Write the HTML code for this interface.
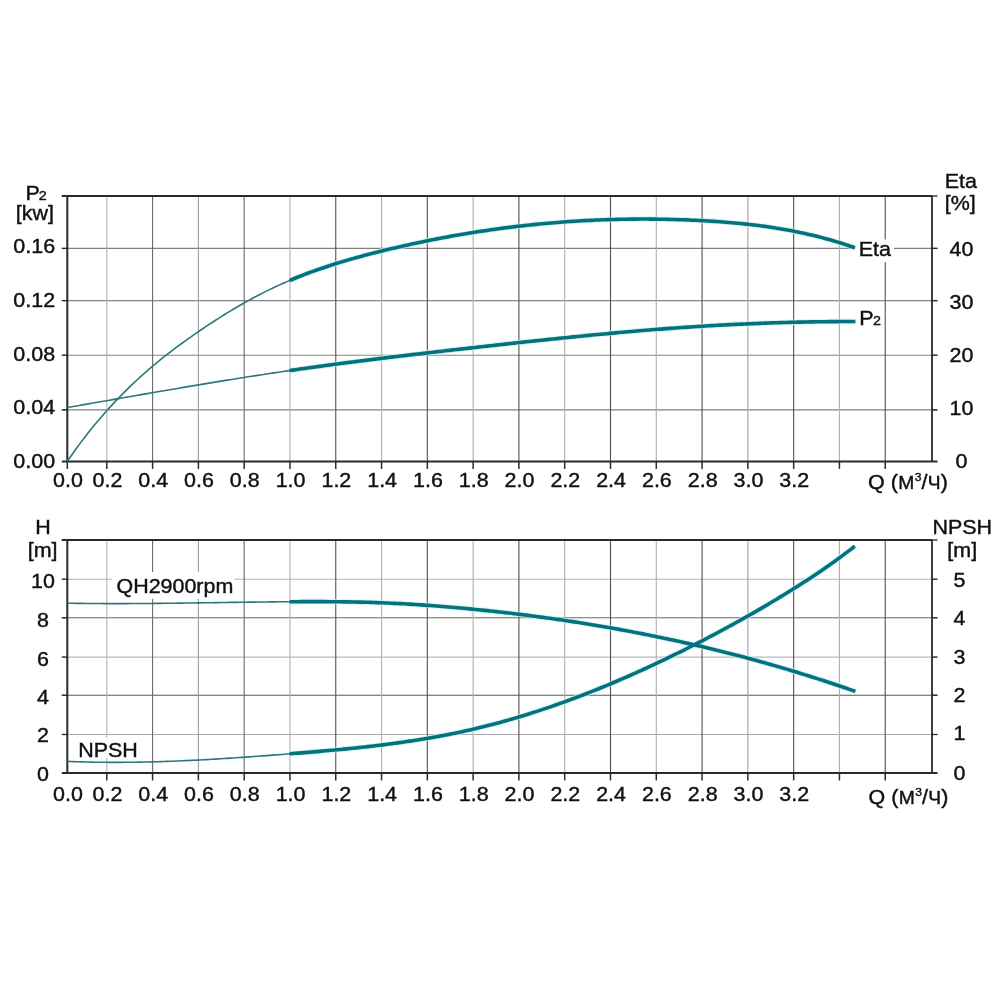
<!DOCTYPE html>
<html><head><meta charset="utf-8"><style>
html,body{margin:0;padding:0;background:#fff;width:1000px;height:1000px;overflow:hidden}
svg{display:block;font-family:"Liberation Sans",sans-serif}
text{fill:#111;stroke:#111;stroke-width:0.4px}
</style></head><body>
<svg width="1000" height="1000" viewBox="0 0 1000 1000">
<rect width="1000" height="1000" fill="#fff"/>
<line x1="61.8" y1="248.4" x2="937.5" y2="248.4" stroke="#808080" stroke-width="1.1"/>
<line x1="61.8" y1="300.6" x2="937.5" y2="300.6" stroke="#858585" stroke-width="1.1"/>
<line x1="61.8" y1="355.2" x2="937.5" y2="355.2" stroke="#858585" stroke-width="1.1"/>
<line x1="61.8" y1="409.9" x2="937.5" y2="409.9" stroke="#808080" stroke-width="1.1"/>
<line x1="106.80" y1="196.0" x2="106.80" y2="461.4" stroke="#b4b4b4" stroke-width="1.1"/>
<line x1="152.59" y1="196.0" x2="152.59" y2="461.4" stroke="#6a6a6a" stroke-width="1.1"/>
<line x1="198.38" y1="196.0" x2="198.38" y2="461.4" stroke="#9c9c9c" stroke-width="1.1"/>
<line x1="244.17" y1="196.0" x2="244.17" y2="461.4" stroke="#6a6a6a" stroke-width="1.1"/>
<line x1="289.96" y1="196.0" x2="289.96" y2="461.4" stroke="#b0b0b0" stroke-width="1.1"/>
<line x1="335.75" y1="196.0" x2="335.75" y2="461.4" stroke="#555555" stroke-width="1.1"/>
<line x1="381.54" y1="196.0" x2="381.54" y2="461.4" stroke="#b0b0b0" stroke-width="1.1"/>
<line x1="427.33" y1="196.0" x2="427.33" y2="461.4" stroke="#555555" stroke-width="1.1"/>
<line x1="473.12" y1="196.0" x2="473.12" y2="461.4" stroke="#b0b0b0" stroke-width="1.1"/>
<line x1="518.91" y1="196.0" x2="518.91" y2="461.4" stroke="#505050" stroke-width="1.1"/>
<line x1="564.70" y1="196.0" x2="564.70" y2="461.4" stroke="#b0b0b0" stroke-width="1.1"/>
<line x1="610.49" y1="196.0" x2="610.49" y2="461.4" stroke="#505050" stroke-width="1.1"/>
<line x1="656.28" y1="196.0" x2="656.28" y2="461.4" stroke="#b0b0b0" stroke-width="1.1"/>
<line x1="702.07" y1="196.0" x2="702.07" y2="461.4" stroke="#505050" stroke-width="1.1"/>
<line x1="747.86" y1="196.0" x2="747.86" y2="461.4" stroke="#a0a0a0" stroke-width="1.1"/>
<line x1="793.65" y1="196.0" x2="793.65" y2="461.4" stroke="#505050" stroke-width="1.1"/>
<line x1="839.44" y1="196.0" x2="839.44" y2="461.4" stroke="#b0b0b0" stroke-width="1.1"/>
<line x1="885.23" y1="196.0" x2="885.23" y2="461.4" stroke="#505050" stroke-width="1.1"/>
<line x1="67.30" y1="461.4" x2="67.30" y2="468.9" stroke="#2a2a2a" stroke-width="1.5"/>
<line x1="106.80" y1="461.4" x2="106.80" y2="468.9" stroke="#2a2a2a" stroke-width="1.5"/>
<line x1="152.59" y1="461.4" x2="152.59" y2="468.9" stroke="#2a2a2a" stroke-width="1.5"/>
<line x1="198.38" y1="461.4" x2="198.38" y2="468.9" stroke="#2a2a2a" stroke-width="1.5"/>
<line x1="244.17" y1="461.4" x2="244.17" y2="468.9" stroke="#2a2a2a" stroke-width="1.5"/>
<line x1="289.96" y1="461.4" x2="289.96" y2="468.9" stroke="#2a2a2a" stroke-width="1.5"/>
<line x1="335.75" y1="461.4" x2="335.75" y2="468.9" stroke="#2a2a2a" stroke-width="1.5"/>
<line x1="381.54" y1="461.4" x2="381.54" y2="468.9" stroke="#2a2a2a" stroke-width="1.5"/>
<line x1="427.33" y1="461.4" x2="427.33" y2="468.9" stroke="#2a2a2a" stroke-width="1.5"/>
<line x1="473.12" y1="461.4" x2="473.12" y2="468.9" stroke="#2a2a2a" stroke-width="1.5"/>
<line x1="518.91" y1="461.4" x2="518.91" y2="468.9" stroke="#2a2a2a" stroke-width="1.5"/>
<line x1="564.70" y1="461.4" x2="564.70" y2="468.9" stroke="#2a2a2a" stroke-width="1.5"/>
<line x1="610.49" y1="461.4" x2="610.49" y2="468.9" stroke="#2a2a2a" stroke-width="1.5"/>
<line x1="656.28" y1="461.4" x2="656.28" y2="468.9" stroke="#2a2a2a" stroke-width="1.5"/>
<line x1="702.07" y1="461.4" x2="702.07" y2="468.9" stroke="#2a2a2a" stroke-width="1.5"/>
<line x1="747.86" y1="461.4" x2="747.86" y2="468.9" stroke="#2a2a2a" stroke-width="1.5"/>
<line x1="793.65" y1="461.4" x2="793.65" y2="468.9" stroke="#2a2a2a" stroke-width="1.5"/>
<line x1="839.44" y1="461.4" x2="839.44" y2="468.9" stroke="#2a2a2a" stroke-width="1.5"/>
<line x1="885.23" y1="461.4" x2="885.23" y2="468.9" stroke="#2a2a2a" stroke-width="1.5"/>
<line x1="61.8" y1="196.0" x2="932.0" y2="196.0" stroke="#2a2a2a" stroke-width="2"/>
<line x1="61.8" y1="461.4" x2="937.5" y2="461.4" stroke="#2a2a2a" stroke-width="2"/>
<line x1="67.3" y1="196.0" x2="67.3" y2="461.4" stroke="#2a2a2a" stroke-width="2"/>
<line x1="932.0" y1="196.0" x2="932.0" y2="461.4" stroke="#2a2a2a" stroke-width="1.8"/>
<line x1="932.0" y1="196.0" x2="937.5" y2="196.0" stroke="#2a2a2a" stroke-width="1.3"/>
<line x1="61.8" y1="196.0" x2="67.3" y2="196.0" stroke="#2a2a2a" stroke-width="1.3"/>
<line x1="932.0" y1="248.4" x2="937.5" y2="248.4" stroke="#2a2a2a" stroke-width="1.3"/>
<line x1="61.8" y1="248.4" x2="67.3" y2="248.4" stroke="#2a2a2a" stroke-width="1.3"/>
<line x1="932.0" y1="300.6" x2="937.5" y2="300.6" stroke="#2a2a2a" stroke-width="1.3"/>
<line x1="61.8" y1="300.6" x2="67.3" y2="300.6" stroke="#2a2a2a" stroke-width="1.3"/>
<line x1="932.0" y1="355.2" x2="937.5" y2="355.2" stroke="#2a2a2a" stroke-width="1.3"/>
<line x1="61.8" y1="355.2" x2="67.3" y2="355.2" stroke="#2a2a2a" stroke-width="1.3"/>
<line x1="932.0" y1="409.9" x2="937.5" y2="409.9" stroke="#2a2a2a" stroke-width="1.3"/>
<line x1="61.8" y1="409.9" x2="67.3" y2="409.9" stroke="#2a2a2a" stroke-width="1.3"/>
<line x1="61.8" y1="579.2" x2="937.5" y2="579.2" stroke="#b4b4b4" stroke-width="1.1"/>
<line x1="61.8" y1="617.8" x2="937.5" y2="617.8" stroke="#6a6a6a" stroke-width="1.1"/>
<line x1="61.8" y1="657.1" x2="937.5" y2="657.1" stroke="#b8b8b8" stroke-width="1.1"/>
<line x1="61.8" y1="695.2" x2="937.5" y2="695.2" stroke="#5a5a5a" stroke-width="1.1"/>
<line x1="61.8" y1="734.5" x2="937.5" y2="734.5" stroke="#aaaaaa" stroke-width="1.1"/>
<line x1="106.80" y1="540.0" x2="106.80" y2="772.9" stroke="#b4b4b4" stroke-width="1.1"/>
<line x1="152.59" y1="540.0" x2="152.59" y2="772.9" stroke="#6a6a6a" stroke-width="1.1"/>
<line x1="198.38" y1="540.0" x2="198.38" y2="772.9" stroke="#9c9c9c" stroke-width="1.1"/>
<line x1="244.17" y1="540.0" x2="244.17" y2="772.9" stroke="#6a6a6a" stroke-width="1.1"/>
<line x1="289.96" y1="540.0" x2="289.96" y2="772.9" stroke="#b0b0b0" stroke-width="1.1"/>
<line x1="335.75" y1="540.0" x2="335.75" y2="772.9" stroke="#555555" stroke-width="1.1"/>
<line x1="381.54" y1="540.0" x2="381.54" y2="772.9" stroke="#b0b0b0" stroke-width="1.1"/>
<line x1="427.33" y1="540.0" x2="427.33" y2="772.9" stroke="#555555" stroke-width="1.1"/>
<line x1="473.12" y1="540.0" x2="473.12" y2="772.9" stroke="#b0b0b0" stroke-width="1.1"/>
<line x1="518.91" y1="540.0" x2="518.91" y2="772.9" stroke="#505050" stroke-width="1.1"/>
<line x1="564.70" y1="540.0" x2="564.70" y2="772.9" stroke="#b0b0b0" stroke-width="1.1"/>
<line x1="610.49" y1="540.0" x2="610.49" y2="772.9" stroke="#505050" stroke-width="1.1"/>
<line x1="656.28" y1="540.0" x2="656.28" y2="772.9" stroke="#b0b0b0" stroke-width="1.1"/>
<line x1="702.07" y1="540.0" x2="702.07" y2="772.9" stroke="#505050" stroke-width="1.1"/>
<line x1="747.86" y1="540.0" x2="747.86" y2="772.9" stroke="#a0a0a0" stroke-width="1.1"/>
<line x1="793.65" y1="540.0" x2="793.65" y2="772.9" stroke="#505050" stroke-width="1.1"/>
<line x1="839.44" y1="540.0" x2="839.44" y2="772.9" stroke="#b0b0b0" stroke-width="1.1"/>
<line x1="885.23" y1="540.0" x2="885.23" y2="772.9" stroke="#505050" stroke-width="1.1"/>
<line x1="106.80" y1="772.9" x2="106.80" y2="780.4" stroke="#2a2a2a" stroke-width="1.5"/>
<line x1="152.59" y1="772.9" x2="152.59" y2="780.4" stroke="#2a2a2a" stroke-width="1.5"/>
<line x1="198.38" y1="772.9" x2="198.38" y2="780.4" stroke="#2a2a2a" stroke-width="1.5"/>
<line x1="244.17" y1="772.9" x2="244.17" y2="780.4" stroke="#2a2a2a" stroke-width="1.5"/>
<line x1="289.96" y1="772.9" x2="289.96" y2="780.4" stroke="#2a2a2a" stroke-width="1.5"/>
<line x1="335.75" y1="772.9" x2="335.75" y2="780.4" stroke="#2a2a2a" stroke-width="1.5"/>
<line x1="381.54" y1="772.9" x2="381.54" y2="780.4" stroke="#2a2a2a" stroke-width="1.5"/>
<line x1="427.33" y1="772.9" x2="427.33" y2="780.4" stroke="#2a2a2a" stroke-width="1.5"/>
<line x1="473.12" y1="772.9" x2="473.12" y2="780.4" stroke="#2a2a2a" stroke-width="1.5"/>
<line x1="518.91" y1="772.9" x2="518.91" y2="780.4" stroke="#2a2a2a" stroke-width="1.5"/>
<line x1="564.70" y1="772.9" x2="564.70" y2="780.4" stroke="#2a2a2a" stroke-width="1.5"/>
<line x1="610.49" y1="772.9" x2="610.49" y2="780.4" stroke="#2a2a2a" stroke-width="1.5"/>
<line x1="656.28" y1="772.9" x2="656.28" y2="780.4" stroke="#2a2a2a" stroke-width="1.5"/>
<line x1="702.07" y1="772.9" x2="702.07" y2="780.4" stroke="#2a2a2a" stroke-width="1.5"/>
<line x1="747.86" y1="772.9" x2="747.86" y2="780.4" stroke="#2a2a2a" stroke-width="1.5"/>
<line x1="793.65" y1="772.9" x2="793.65" y2="780.4" stroke="#2a2a2a" stroke-width="1.5"/>
<line x1="839.44" y1="772.9" x2="839.44" y2="780.4" stroke="#2a2a2a" stroke-width="1.5"/>
<line x1="885.23" y1="772.9" x2="885.23" y2="780.4" stroke="#2a2a2a" stroke-width="1.5"/>
<line x1="61.8" y1="540.0" x2="932.0" y2="540.0" stroke="#2a2a2a" stroke-width="2"/>
<line x1="61.8" y1="772.9" x2="937.5" y2="772.9" stroke="#2a2a2a" stroke-width="2"/>
<line x1="67.3" y1="540.0" x2="67.3" y2="772.9" stroke="#2a2a2a" stroke-width="2"/>
<line x1="932.0" y1="540.0" x2="932.0" y2="772.9" stroke="#2a2a2a" stroke-width="1.8"/>
<line x1="932.0" y1="540.0" x2="937.5" y2="540.0" stroke="#2a2a2a" stroke-width="1.3"/>
<line x1="61.8" y1="540.0" x2="67.3" y2="540.0" stroke="#2a2a2a" stroke-width="1.3"/>
<line x1="932.0" y1="579.2" x2="937.5" y2="579.2" stroke="#2a2a2a" stroke-width="1.3"/>
<line x1="61.8" y1="579.2" x2="67.3" y2="579.2" stroke="#2a2a2a" stroke-width="1.3"/>
<line x1="932.0" y1="617.8" x2="937.5" y2="617.8" stroke="#2a2a2a" stroke-width="1.3"/>
<line x1="61.8" y1="617.8" x2="67.3" y2="617.8" stroke="#2a2a2a" stroke-width="1.3"/>
<line x1="932.0" y1="657.1" x2="937.5" y2="657.1" stroke="#2a2a2a" stroke-width="1.3"/>
<line x1="61.8" y1="657.1" x2="67.3" y2="657.1" stroke="#2a2a2a" stroke-width="1.3"/>
<line x1="932.0" y1="695.2" x2="937.5" y2="695.2" stroke="#2a2a2a" stroke-width="1.3"/>
<line x1="61.8" y1="695.2" x2="67.3" y2="695.2" stroke="#2a2a2a" stroke-width="1.3"/>
<line x1="932.0" y1="734.5" x2="937.5" y2="734.5" stroke="#2a2a2a" stroke-width="1.3"/>
<line x1="61.8" y1="734.5" x2="67.3" y2="734.5" stroke="#2a2a2a" stroke-width="1.3"/>
<rect x="855" y="239.5" width="39" height="22.5" fill="#fff"/>
<rect x="112" y="572" width="122" height="27" fill="#fff"/>
<rect x="75" y="738" width="65" height="20" fill="#fff"/>
<path d="M289.60,280.50 L292.61,279.24 L295.61,278.00 L298.62,276.79 L301.63,275.60 L304.64,274.43 L307.64,273.29 L310.65,272.18 L313.66,271.08 L316.67,270.01 L319.67,268.96 L322.68,267.93 L325.69,266.92 L328.70,265.93 L331.70,264.96 L334.71,264.00 L337.72,263.07 L340.73,262.15 L343.73,261.25 L346.74,260.36 L349.75,259.49 L352.76,258.64 L355.76,257.79 L358.77,256.97 L361.78,256.15 L364.79,255.35 L367.79,254.56 L370.80,253.78 L373.81,253.01 L376.82,252.25 L379.82,251.50 L382.83,250.76 L385.84,250.03 L388.85,249.31 L391.85,248.59 L394.86,247.89 L397.87,247.19 L400.88,246.50 L403.88,245.82 L406.89,245.15 L409.90,244.48 L412.91,243.83 L415.91,243.18 L418.92,242.54 L421.93,241.91 L424.94,241.29 L427.94,240.68 L430.95,240.07 L433.96,239.48 L436.96,238.89 L439.97,238.31 L442.98,237.74 L445.99,237.18 L448.99,236.63 L452.00,236.08 L455.01,235.55 L458.02,235.02 L461.02,234.50 L464.03,233.99 L467.04,233.49 L470.05,233.00 L473.05,232.52 L476.06,232.04 L479.07,231.58 L482.08,231.12 L485.08,230.67 L488.09,230.23 L491.10,229.80 L494.11,229.37 L497.11,228.96 L500.12,228.55 L503.13,228.15 L506.14,227.77 L509.14,227.38 L512.15,227.01 L515.16,226.65 L518.17,226.30 L521.17,225.95 L524.18,225.61 L527.19,225.28 L530.20,224.96 L533.20,224.65 L536.21,224.35 L539.22,224.05 L542.23,223.77 L545.23,223.49 L548.24,223.22 L551.25,222.96 L554.26,222.71 L557.26,222.46 L560.27,222.23 L563.28,222.00 L566.29,221.78 L569.29,221.57 L572.30,221.37 L575.31,221.18 L578.31,220.99 L581.32,220.82 L584.33,220.65 L587.34,220.49 L590.34,220.34 L593.35,220.20 L596.36,220.06 L599.37,219.94 L602.37,219.82 L605.38,219.71 L608.39,219.61 L611.40,219.52 L614.40,219.44 L617.41,219.36 L620.42,219.29 L623.43,219.23 L626.43,219.18 L629.44,219.14 L632.45,219.11 L635.46,219.08 L638.46,219.07 L641.47,219.06 L644.48,219.06 L647.49,219.07 L650.49,219.08 L653.50,219.11 L656.51,219.14 L659.52,219.18 L662.52,219.23 L665.53,219.29 L668.54,219.35 L671.55,219.43 L674.55,219.51 L677.56,219.60 L680.57,219.70 L683.58,219.81 L686.58,219.92 L689.59,220.05 L692.60,220.18 L695.61,220.32 L698.61,220.47 L701.62,220.62 L704.63,220.79 L707.64,220.96 L710.64,221.14 L713.65,221.34 L716.66,221.54 L719.66,221.75 L722.67,221.97 L725.68,222.20 L728.69,222.45 L731.69,222.70 L734.70,222.97 L737.71,223.25 L740.72,223.54 L743.72,223.85 L746.73,224.16 L749.74,224.50 L752.75,224.84 L755.75,225.21 L758.76,225.58 L761.77,225.97 L764.78,226.38 L767.78,226.81 L770.79,227.25 L773.80,227.70 L776.81,228.18 L779.81,228.67 L782.82,229.18 L785.83,229.71 L788.84,230.26 L791.84,230.82 L794.85,231.41 L797.86,232.01 L800.87,232.64 L803.87,233.29 L806.88,233.96 L809.89,234.65 L812.90,235.36 L815.90,236.09 L818.91,236.85 L821.92,237.63 L824.93,238.43 L827.93,239.25 L830.94,240.10 L833.95,240.98 L836.96,241.88 L839.96,242.80 L842.97,243.75 L845.98,244.73 L848.99,245.73 L851.99,246.76 L855.00,247.82" fill="none" stroke="#c6f1f4" stroke-width="5.6" stroke-linejoin="round" opacity="0.7"/>
<path d="M289.60,370.56 L292.59,370.13 L295.59,369.70 L298.58,369.27 L301.57,368.84 L304.57,368.42 L307.56,368.00 L310.56,367.58 L313.55,367.17 L316.54,366.76 L319.54,366.35 L322.53,365.94 L325.52,365.53 L328.52,365.13 L331.51,364.73 L334.50,364.33 L337.50,363.94 L340.49,363.54 L343.49,363.15 L346.48,362.76 L349.47,362.37 L352.47,361.99 L355.46,361.60 L358.45,361.22 L361.45,360.84 L364.44,360.47 L367.43,360.09 L370.43,359.72 L373.42,359.34 L376.42,358.97 L379.41,358.60 L382.40,358.24 L385.40,357.87 L388.39,357.51 L391.38,357.14 L394.38,356.78 L397.37,356.42 L400.37,356.06 L403.36,355.71 L406.35,355.35 L409.35,355.00 L412.34,354.64 L415.33,354.29 L418.33,353.94 L421.32,353.59 L424.31,353.24 L427.31,352.90 L430.30,352.55 L433.30,352.20 L436.29,351.86 L439.28,351.52 L442.28,351.17 L445.27,350.83 L448.26,350.49 L451.26,350.15 L454.25,349.81 L457.24,349.47 L460.24,349.13 L463.23,348.79 L466.23,348.46 L469.22,348.12 L472.21,347.78 L475.21,347.45 L478.20,347.11 L481.19,346.77 L484.19,346.44 L487.18,346.11 L490.17,345.77 L493.17,345.44 L496.16,345.11 L499.16,344.78 L502.15,344.44 L505.14,344.11 L508.14,343.79 L511.13,343.46 L514.12,343.13 L517.12,342.80 L520.11,342.48 L523.10,342.15 L526.10,341.83 L529.09,341.51 L532.09,341.19 L535.08,340.87 L538.07,340.55 L541.07,340.23 L544.06,339.92 L547.05,339.60 L550.05,339.29 L553.04,338.98 L556.03,338.67 L559.03,338.36 L562.02,338.05 L565.02,337.75 L568.01,337.44 L571.00,337.14 L574.00,336.84 L576.99,336.54 L579.98,336.25 L582.98,335.95 L585.97,335.66 L588.97,335.37 L591.96,335.08 L594.95,334.79 L597.95,334.51 L600.94,334.23 L603.93,333.95 L606.93,333.67 L609.92,333.39 L612.91,333.12 L615.91,332.85 L618.90,332.58 L621.90,332.31 L624.89,332.05 L627.88,331.79 L630.88,331.53 L633.87,331.27 L636.86,331.02 L639.86,330.77 L642.85,330.52 L645.84,330.27 L648.84,330.03 L651.83,329.79 L654.83,329.55 L657.82,329.32 L660.81,329.09 L663.81,328.86 L666.80,328.63 L669.79,328.41 L672.79,328.19 L675.78,327.98 L678.77,327.76 L681.77,327.55 L684.76,327.35 L687.76,327.15 L690.75,326.95 L693.74,326.75 L696.74,326.56 L699.73,326.37 L702.72,326.18 L705.72,326.00 L708.71,325.82 L711.70,325.65 L714.70,325.48 L717.69,325.31 L720.69,325.14 L723.68,324.98 L726.67,324.83 L729.67,324.67 L732.66,324.52 L735.65,324.38 L738.65,324.23 L741.64,324.10 L744.63,323.96 L747.63,323.83 L750.62,323.70 L753.62,323.58 L756.61,323.46 L759.60,323.34 L762.60,323.22 L765.59,323.12 L768.58,323.01 L771.58,322.91 L774.57,322.81 L777.57,322.71 L780.56,322.62 L783.55,322.53 L786.55,322.45 L789.54,322.37 L792.53,322.29 L795.53,322.22 L798.52,322.15 L801.51,322.08 L804.51,322.02 L807.50,321.97 L810.50,321.91 L813.49,321.86 L816.48,321.81 L819.48,321.77 L822.47,321.73 L825.46,321.70 L828.46,321.66 L831.45,321.64 L834.44,321.61 L837.44,321.59 L840.43,321.57 L843.43,321.56 L846.42,321.55 L849.41,321.55 L852.41,321.55 L855.40,321.55" fill="none" stroke="#c6f1f4" stroke-width="5.6" stroke-linejoin="round" opacity="0.7"/>
<path d="M289.60,601.73 L292.59,601.71 L295.59,601.70 L298.58,601.68 L301.57,601.67 L304.57,601.66 L307.56,601.65 L310.56,601.64 L313.55,601.64 L316.54,601.64 L319.54,601.65 L322.53,601.66 L325.52,601.67 L328.52,601.68 L331.51,601.70 L334.50,601.73 L337.50,601.76 L340.49,601.79 L343.49,601.83 L346.48,601.87 L349.47,601.92 L352.47,601.97 L355.46,602.03 L358.45,602.09 L361.45,602.16 L364.44,602.24 L367.43,602.32 L370.43,602.41 L373.42,602.50 L376.42,602.60 L379.41,602.71 L382.40,602.82 L385.40,602.95 L388.39,603.07 L391.38,603.21 L394.38,603.35 L397.37,603.50 L400.37,603.65 L403.36,603.82 L406.35,603.98 L409.35,604.16 L412.34,604.34 L415.33,604.52 L418.33,604.72 L421.32,604.92 L424.31,605.12 L427.31,605.33 L430.30,605.55 L433.30,605.77 L436.29,606.00 L439.28,606.23 L442.28,606.47 L445.27,606.71 L448.26,606.96 L451.26,607.22 L454.25,607.48 L457.24,607.74 L460.24,608.01 L463.23,608.29 L466.23,608.57 L469.22,608.85 L472.21,609.14 L475.21,609.44 L478.20,609.73 L481.19,610.04 L484.19,610.35 L487.18,610.66 L490.17,610.98 L493.17,611.30 L496.16,611.62 L499.16,611.96 L502.15,612.29 L505.14,612.63 L508.14,612.98 L511.13,613.33 L514.12,613.69 L517.12,614.05 L520.11,614.41 L523.10,614.78 L526.10,615.16 L529.09,615.54 L532.09,615.92 L535.08,616.32 L538.07,616.71 L541.07,617.11 L544.06,617.52 L547.05,617.93 L550.05,618.34 L553.04,618.76 L556.03,619.19 L559.03,619.62 L562.02,620.06 L565.02,620.50 L568.01,620.95 L571.00,621.40 L574.00,621.86 L576.99,622.32 L579.98,622.79 L582.98,623.26 L585.97,623.74 L588.97,624.22 L591.96,624.71 L594.95,625.21 L597.95,625.71 L600.94,626.22 L603.93,626.73 L606.93,627.25 L609.92,627.77 L612.91,628.30 L615.91,628.83 L618.90,629.37 L621.90,629.91 L624.89,630.46 L627.88,631.02 L630.88,631.58 L633.87,632.15 L636.86,632.72 L639.86,633.30 L642.85,633.89 L645.84,634.48 L648.84,635.08 L651.83,635.68 L654.83,636.29 L657.82,636.90 L660.81,637.52 L663.81,638.15 L666.80,638.78 L669.79,639.41 L672.79,640.06 L675.78,640.71 L678.77,641.36 L681.77,642.03 L684.76,642.69 L687.76,643.37 L690.75,644.05 L693.74,644.73 L696.74,645.42 L699.73,646.12 L702.72,646.83 L705.72,647.54 L708.71,648.25 L711.70,648.98 L714.70,649.71 L717.69,650.44 L720.69,651.18 L723.68,651.93 L726.67,652.69 L729.67,653.45 L732.66,654.22 L735.65,654.99 L738.65,655.77 L741.64,656.56 L744.63,657.35 L747.63,658.15 L750.62,658.95 L753.62,659.77 L756.61,660.59 L759.60,661.41 L762.60,662.24 L765.59,663.08 L768.58,663.93 L771.58,664.78 L774.57,665.64 L777.57,666.51 L780.56,667.38 L783.55,668.26 L786.55,669.14 L789.54,670.03 L792.53,670.93 L795.53,671.84 L798.52,672.75 L801.51,673.67 L804.51,674.60 L807.50,675.53 L810.50,676.47 L813.49,677.42 L816.48,678.37 L819.48,679.34 L822.47,680.30 L825.46,681.28 L828.46,682.26 L831.45,683.25 L834.44,684.25 L837.44,685.25 L840.43,686.26 L843.43,687.28 L846.42,688.31 L849.41,689.34 L852.41,690.38 L855.40,691.42" fill="none" stroke="#c6f1f4" stroke-width="5.6" stroke-linejoin="round" opacity="0.7"/>
<path d="M289.60,753.81 L292.61,753.57 L295.61,753.33 L298.62,753.09 L301.63,752.85 L304.63,752.61 L307.64,752.36 L310.64,752.11 L313.65,751.86 L316.66,751.60 L319.66,751.34 L322.67,751.08 L325.68,750.82 L328.68,750.55 L331.69,750.27 L334.70,750.00 L337.70,749.72 L340.71,749.43 L343.71,749.14 L346.72,748.85 L349.73,748.55 L352.73,748.24 L355.74,747.93 L358.75,747.61 L361.75,747.29 L364.76,746.96 L367.77,746.63 L370.77,746.28 L373.78,745.94 L376.79,745.58 L379.79,745.22 L382.80,744.85 L385.80,744.47 L388.81,744.08 L391.82,743.69 L394.82,743.29 L397.83,742.88 L400.84,742.46 L403.84,742.03 L406.85,741.59 L409.86,741.14 L412.86,740.69 L415.87,740.22 L418.87,739.75 L421.88,739.26 L424.89,738.76 L427.89,738.26 L430.90,737.74 L433.91,737.21 L436.91,736.67 L439.92,736.12 L442.93,735.55 L445.93,734.98 L448.94,734.39 L451.94,733.79 L454.95,733.18 L457.96,732.56 L460.96,731.92 L463.97,731.27 L466.98,730.60 L469.98,729.93 L472.99,729.24 L476.00,728.53 L479.00,727.81 L482.01,727.08 L485.01,726.33 L488.02,725.57 L491.03,724.80 L494.03,724.01 L497.04,723.21 L500.05,722.40 L503.05,721.57 L506.06,720.73 L509.07,719.88 L512.07,719.01 L515.08,718.13 L518.09,717.24 L521.09,716.33 L524.10,715.41 L527.10,714.48 L530.11,713.54 L533.12,712.58 L536.12,711.62 L539.13,710.63 L542.14,709.64 L545.14,708.63 L548.15,707.62 L551.16,706.59 L554.16,705.54 L557.17,704.49 L560.17,703.42 L563.18,702.35 L566.19,701.26 L569.19,700.15 L572.20,699.04 L575.21,697.91 L578.21,696.78 L581.22,695.63 L584.23,694.47 L587.23,693.30 L590.24,692.12 L593.24,690.92 L596.25,689.72 L599.26,688.50 L602.26,687.28 L605.27,686.04 L608.28,684.79 L611.28,683.53 L614.29,682.26 L617.30,680.98 L620.30,679.69 L623.31,678.39 L626.31,677.08 L629.32,675.76 L632.33,674.43 L635.33,673.08 L638.34,671.73 L641.35,670.37 L644.35,668.99 L647.36,667.61 L650.37,666.22 L653.37,664.82 L656.38,663.40 L659.39,661.98 L662.39,660.55 L665.40,659.11 L668.40,657.66 L671.41,656.20 L674.42,654.73 L677.42,653.25 L680.43,651.77 L683.44,650.27 L686.44,648.76 L689.45,647.25 L692.46,645.73 L695.46,644.19 L698.47,642.65 L701.47,641.10 L704.48,639.54 L707.49,637.98 L710.49,636.40 L713.50,634.82 L716.51,633.22 L719.51,631.62 L722.52,630.01 L725.53,628.38 L728.53,626.75 L731.54,625.11 L734.54,623.46 L737.55,621.79 L740.56,620.12 L743.56,618.44 L746.57,616.75 L749.58,615.04 L752.58,613.33 L755.59,611.60 L758.60,609.86 L761.60,608.11 L764.61,606.35 L767.61,604.58 L770.62,602.79 L773.63,601.00 L776.63,599.19 L779.64,597.37 L782.65,595.54 L785.65,593.69 L788.66,591.83 L791.67,589.96 L794.67,588.08 L797.68,586.18 L800.69,584.27 L803.69,582.34 L806.70,580.40 L809.70,578.44 L812.71,576.46 L815.72,574.46 L818.72,572.44 L821.73,570.39 L824.74,568.33 L827.74,566.24 L830.75,564.13 L833.76,561.99 L836.76,559.82 L839.77,557.63 L842.77,555.40 L845.78,553.15 L848.79,550.87 L851.79,548.55 L854.80,546.20" fill="none" stroke="#c6f1f4" stroke-width="5.6" stroke-linejoin="round" opacity="0.7"/>
<path d="M67.30,461.29 L70.32,456.94 L73.34,452.68 L76.35,448.50 L79.37,444.40 L82.39,440.38 L85.41,436.44 L88.42,432.59 L91.44,428.80 L94.46,425.10 L97.48,421.46 L100.49,417.90 L103.51,414.41 L106.53,410.99 L109.55,407.64 L112.56,404.35 L115.58,401.12 L118.60,397.96 L121.62,394.86 L124.63,391.82 L127.65,388.84 L130.67,385.91 L133.69,383.04 L136.70,380.22 L139.72,377.45 L142.74,374.73 L145.76,372.07 L148.77,369.44 L151.79,366.87 L154.81,364.33 L157.83,361.84 L160.84,359.39 L163.86,356.98 L166.88,354.61 L169.90,352.27 L172.91,349.97 L175.93,347.70 L178.95,345.46 L181.97,343.25 L184.99,341.06 L188.00,338.91 L191.02,336.78 L194.04,334.67 L197.06,332.59 L200.07,330.52 L203.09,328.47 L206.11,326.45 L209.13,324.45 L212.14,322.46 L215.16,320.50 L218.18,318.56 L221.20,316.65 L224.21,314.76 L227.23,312.90 L230.25,311.06 L233.27,309.24 L236.28,307.45 L239.30,305.69 L242.32,303.96 L245.34,302.26 L248.35,300.58 L251.37,298.94 L254.39,297.32 L257.41,295.73 L260.42,294.17 L263.44,292.63 L266.46,291.13 L269.48,289.65 L272.49,288.20 L275.51,286.78 L278.53,285.38 L281.55,284.02 L284.56,282.68 L287.58,281.36 L290.60,280.08" fill="none" stroke="#2a777c" stroke-width="1.6"/>
<path d="M289.60,280.50 L292.61,279.24 L295.61,278.00 L298.62,276.79 L301.63,275.60 L304.64,274.43 L307.64,273.29 L310.65,272.18 L313.66,271.08 L316.67,270.01 L319.67,268.96 L322.68,267.93 L325.69,266.92 L328.70,265.93 L331.70,264.96 L334.71,264.00 L337.72,263.07 L340.73,262.15 L343.73,261.25 L346.74,260.36 L349.75,259.49 L352.76,258.64 L355.76,257.79 L358.77,256.97 L361.78,256.15 L364.79,255.35 L367.79,254.56 L370.80,253.78 L373.81,253.01 L376.82,252.25 L379.82,251.50 L382.83,250.76 L385.84,250.03 L388.85,249.31 L391.85,248.59 L394.86,247.89 L397.87,247.19 L400.88,246.50 L403.88,245.82 L406.89,245.15 L409.90,244.48 L412.91,243.83 L415.91,243.18 L418.92,242.54 L421.93,241.91 L424.94,241.29 L427.94,240.68 L430.95,240.07 L433.96,239.48 L436.96,238.89 L439.97,238.31 L442.98,237.74 L445.99,237.18 L448.99,236.63 L452.00,236.08 L455.01,235.55 L458.02,235.02 L461.02,234.50 L464.03,233.99 L467.04,233.49 L470.05,233.00 L473.05,232.52 L476.06,232.04 L479.07,231.58 L482.08,231.12 L485.08,230.67 L488.09,230.23 L491.10,229.80 L494.11,229.37 L497.11,228.96 L500.12,228.55 L503.13,228.15 L506.14,227.77 L509.14,227.38 L512.15,227.01 L515.16,226.65 L518.17,226.30 L521.17,225.95 L524.18,225.61 L527.19,225.28 L530.20,224.96 L533.20,224.65 L536.21,224.35 L539.22,224.05 L542.23,223.77 L545.23,223.49 L548.24,223.22 L551.25,222.96 L554.26,222.71 L557.26,222.46 L560.27,222.23 L563.28,222.00 L566.29,221.78 L569.29,221.57 L572.30,221.37 L575.31,221.18 L578.31,220.99 L581.32,220.82 L584.33,220.65 L587.34,220.49 L590.34,220.34 L593.35,220.20 L596.36,220.06 L599.37,219.94 L602.37,219.82 L605.38,219.71 L608.39,219.61 L611.40,219.52 L614.40,219.44 L617.41,219.36 L620.42,219.29 L623.43,219.23 L626.43,219.18 L629.44,219.14 L632.45,219.11 L635.46,219.08 L638.46,219.07 L641.47,219.06 L644.48,219.06 L647.49,219.07 L650.49,219.08 L653.50,219.11 L656.51,219.14 L659.52,219.18 L662.52,219.23 L665.53,219.29 L668.54,219.35 L671.55,219.43 L674.55,219.51 L677.56,219.60 L680.57,219.70 L683.58,219.81 L686.58,219.92 L689.59,220.05 L692.60,220.18 L695.61,220.32 L698.61,220.47 L701.62,220.62 L704.63,220.79 L707.64,220.96 L710.64,221.14 L713.65,221.34 L716.66,221.54 L719.66,221.75 L722.67,221.97 L725.68,222.20 L728.69,222.45 L731.69,222.70 L734.70,222.97 L737.71,223.25 L740.72,223.54 L743.72,223.85 L746.73,224.16 L749.74,224.50 L752.75,224.84 L755.75,225.21 L758.76,225.58 L761.77,225.97 L764.78,226.38 L767.78,226.81 L770.79,227.25 L773.80,227.70 L776.81,228.18 L779.81,228.67 L782.82,229.18 L785.83,229.71 L788.84,230.26 L791.84,230.82 L794.85,231.41 L797.86,232.01 L800.87,232.64 L803.87,233.29 L806.88,233.96 L809.89,234.65 L812.90,235.36 L815.90,236.09 L818.91,236.85 L821.92,237.63 L824.93,238.43 L827.93,239.25 L830.94,240.10 L833.95,240.98 L836.96,241.88 L839.96,242.80 L842.97,243.75 L845.98,244.73 L848.99,245.73 L851.99,246.76 L855.00,247.82" fill="none" stroke="#04717f" stroke-width="3.6" stroke-linejoin="round"/>
<path d="M67.30,407.54 L70.32,407.01 L73.34,406.49 L76.35,405.96 L79.37,405.44 L82.39,404.91 L85.41,404.38 L88.42,403.86 L91.44,403.33 L94.46,402.80 L97.48,402.28 L100.49,401.75 L103.51,401.22 L106.53,400.70 L109.55,400.17 L112.56,399.64 L115.58,399.12 L118.60,398.59 L121.62,398.06 L124.63,397.54 L127.65,397.01 L130.67,396.49 L133.69,395.96 L136.70,395.44 L139.72,394.91 L142.74,394.39 L145.76,393.87 L148.77,393.35 L151.79,392.82 L154.81,392.30 L157.83,391.78 L160.84,391.27 L163.86,390.75 L166.88,390.23 L169.90,389.71 L172.91,389.20 L175.93,388.69 L178.95,388.17 L181.97,387.66 L184.99,387.15 L188.00,386.64 L191.02,386.13 L194.04,385.63 L197.06,385.12 L200.07,384.62 L203.09,384.12 L206.11,383.62 L209.13,383.12 L212.14,382.62 L215.16,382.13 L218.18,381.63 L221.20,381.14 L224.21,380.65 L227.23,380.16 L230.25,379.67 L233.27,379.19 L236.28,378.71 L239.30,378.23 L242.32,377.75 L245.34,377.27 L248.35,376.80 L251.37,376.33 L254.39,375.86 L257.41,375.39 L260.42,374.92 L263.44,374.46 L266.46,374.00 L269.48,373.54 L272.49,373.09 L275.51,372.64 L278.53,372.19 L281.55,371.74 L284.56,371.30 L287.58,370.85 L290.60,370.42" fill="none" stroke="#2a777c" stroke-width="1.6"/>
<path d="M289.60,370.56 L292.59,370.13 L295.59,369.70 L298.58,369.27 L301.57,368.84 L304.57,368.42 L307.56,368.00 L310.56,367.58 L313.55,367.17 L316.54,366.76 L319.54,366.35 L322.53,365.94 L325.52,365.53 L328.52,365.13 L331.51,364.73 L334.50,364.33 L337.50,363.94 L340.49,363.54 L343.49,363.15 L346.48,362.76 L349.47,362.37 L352.47,361.99 L355.46,361.60 L358.45,361.22 L361.45,360.84 L364.44,360.47 L367.43,360.09 L370.43,359.72 L373.42,359.34 L376.42,358.97 L379.41,358.60 L382.40,358.24 L385.40,357.87 L388.39,357.51 L391.38,357.14 L394.38,356.78 L397.37,356.42 L400.37,356.06 L403.36,355.71 L406.35,355.35 L409.35,355.00 L412.34,354.64 L415.33,354.29 L418.33,353.94 L421.32,353.59 L424.31,353.24 L427.31,352.90 L430.30,352.55 L433.30,352.20 L436.29,351.86 L439.28,351.52 L442.28,351.17 L445.27,350.83 L448.26,350.49 L451.26,350.15 L454.25,349.81 L457.24,349.47 L460.24,349.13 L463.23,348.79 L466.23,348.46 L469.22,348.12 L472.21,347.78 L475.21,347.45 L478.20,347.11 L481.19,346.77 L484.19,346.44 L487.18,346.11 L490.17,345.77 L493.17,345.44 L496.16,345.11 L499.16,344.78 L502.15,344.44 L505.14,344.11 L508.14,343.79 L511.13,343.46 L514.12,343.13 L517.12,342.80 L520.11,342.48 L523.10,342.15 L526.10,341.83 L529.09,341.51 L532.09,341.19 L535.08,340.87 L538.07,340.55 L541.07,340.23 L544.06,339.92 L547.05,339.60 L550.05,339.29 L553.04,338.98 L556.03,338.67 L559.03,338.36 L562.02,338.05 L565.02,337.75 L568.01,337.44 L571.00,337.14 L574.00,336.84 L576.99,336.54 L579.98,336.25 L582.98,335.95 L585.97,335.66 L588.97,335.37 L591.96,335.08 L594.95,334.79 L597.95,334.51 L600.94,334.23 L603.93,333.95 L606.93,333.67 L609.92,333.39 L612.91,333.12 L615.91,332.85 L618.90,332.58 L621.90,332.31 L624.89,332.05 L627.88,331.79 L630.88,331.53 L633.87,331.27 L636.86,331.02 L639.86,330.77 L642.85,330.52 L645.84,330.27 L648.84,330.03 L651.83,329.79 L654.83,329.55 L657.82,329.32 L660.81,329.09 L663.81,328.86 L666.80,328.63 L669.79,328.41 L672.79,328.19 L675.78,327.98 L678.77,327.76 L681.77,327.55 L684.76,327.35 L687.76,327.15 L690.75,326.95 L693.74,326.75 L696.74,326.56 L699.73,326.37 L702.72,326.18 L705.72,326.00 L708.71,325.82 L711.70,325.65 L714.70,325.48 L717.69,325.31 L720.69,325.14 L723.68,324.98 L726.67,324.83 L729.67,324.67 L732.66,324.52 L735.65,324.38 L738.65,324.23 L741.64,324.10 L744.63,323.96 L747.63,323.83 L750.62,323.70 L753.62,323.58 L756.61,323.46 L759.60,323.34 L762.60,323.22 L765.59,323.12 L768.58,323.01 L771.58,322.91 L774.57,322.81 L777.57,322.71 L780.56,322.62 L783.55,322.53 L786.55,322.45 L789.54,322.37 L792.53,322.29 L795.53,322.22 L798.52,322.15 L801.51,322.08 L804.51,322.02 L807.50,321.97 L810.50,321.91 L813.49,321.86 L816.48,321.81 L819.48,321.77 L822.47,321.73 L825.46,321.70 L828.46,321.66 L831.45,321.64 L834.44,321.61 L837.44,321.59 L840.43,321.57 L843.43,321.56 L846.42,321.55 L849.41,321.55 L852.41,321.55 L855.40,321.55" fill="none" stroke="#04717f" stroke-width="3.6" stroke-linejoin="round"/>
<path d="M67.30,603.19 L70.32,603.24 L73.34,603.29 L76.35,603.33 L79.37,603.37 L82.39,603.41 L85.41,603.45 L88.42,603.48 L91.44,603.50 L94.46,603.53 L97.48,603.55 L100.49,603.56 L103.51,603.58 L106.53,603.59 L109.55,603.59 L112.56,603.60 L115.58,603.60 L118.60,603.60 L121.62,603.60 L124.63,603.59 L127.65,603.58 L130.67,603.57 L133.69,603.56 L136.70,603.55 L139.72,603.53 L142.74,603.51 L145.76,603.49 L148.77,603.47 L151.79,603.44 L154.81,603.41 L157.83,603.39 L160.84,603.36 L163.86,603.32 L166.88,603.29 L169.90,603.26 L172.91,603.22 L175.93,603.19 L178.95,603.15 L181.97,603.11 L184.99,603.07 L188.00,603.03 L191.02,602.99 L194.04,602.95 L197.06,602.90 L200.07,602.86 L203.09,602.82 L206.11,602.77 L209.13,602.73 L212.14,602.69 L215.16,602.64 L218.18,602.60 L221.20,602.55 L224.21,602.51 L227.23,602.46 L230.25,602.42 L233.27,602.38 L236.28,602.33 L239.30,602.29 L242.32,602.25 L245.34,602.21 L248.35,602.17 L251.37,602.13 L254.39,602.09 L257.41,602.05 L260.42,602.01 L263.44,601.98 L266.46,601.95 L269.48,601.91 L272.49,601.88 L275.51,601.85 L278.53,601.82 L281.55,601.80 L284.56,601.77 L287.58,601.75 L290.60,601.73" fill="none" stroke="#2a777c" stroke-width="1.6"/>
<path d="M289.60,601.73 L292.59,601.71 L295.59,601.70 L298.58,601.68 L301.57,601.67 L304.57,601.66 L307.56,601.65 L310.56,601.64 L313.55,601.64 L316.54,601.64 L319.54,601.65 L322.53,601.66 L325.52,601.67 L328.52,601.68 L331.51,601.70 L334.50,601.73 L337.50,601.76 L340.49,601.79 L343.49,601.83 L346.48,601.87 L349.47,601.92 L352.47,601.97 L355.46,602.03 L358.45,602.09 L361.45,602.16 L364.44,602.24 L367.43,602.32 L370.43,602.41 L373.42,602.50 L376.42,602.60 L379.41,602.71 L382.40,602.82 L385.40,602.95 L388.39,603.07 L391.38,603.21 L394.38,603.35 L397.37,603.50 L400.37,603.65 L403.36,603.82 L406.35,603.98 L409.35,604.16 L412.34,604.34 L415.33,604.52 L418.33,604.72 L421.32,604.92 L424.31,605.12 L427.31,605.33 L430.30,605.55 L433.30,605.77 L436.29,606.00 L439.28,606.23 L442.28,606.47 L445.27,606.71 L448.26,606.96 L451.26,607.22 L454.25,607.48 L457.24,607.74 L460.24,608.01 L463.23,608.29 L466.23,608.57 L469.22,608.85 L472.21,609.14 L475.21,609.44 L478.20,609.73 L481.19,610.04 L484.19,610.35 L487.18,610.66 L490.17,610.98 L493.17,611.30 L496.16,611.62 L499.16,611.96 L502.15,612.29 L505.14,612.63 L508.14,612.98 L511.13,613.33 L514.12,613.69 L517.12,614.05 L520.11,614.41 L523.10,614.78 L526.10,615.16 L529.09,615.54 L532.09,615.92 L535.08,616.32 L538.07,616.71 L541.07,617.11 L544.06,617.52 L547.05,617.93 L550.05,618.34 L553.04,618.76 L556.03,619.19 L559.03,619.62 L562.02,620.06 L565.02,620.50 L568.01,620.95 L571.00,621.40 L574.00,621.86 L576.99,622.32 L579.98,622.79 L582.98,623.26 L585.97,623.74 L588.97,624.22 L591.96,624.71 L594.95,625.21 L597.95,625.71 L600.94,626.22 L603.93,626.73 L606.93,627.25 L609.92,627.77 L612.91,628.30 L615.91,628.83 L618.90,629.37 L621.90,629.91 L624.89,630.46 L627.88,631.02 L630.88,631.58 L633.87,632.15 L636.86,632.72 L639.86,633.30 L642.85,633.89 L645.84,634.48 L648.84,635.08 L651.83,635.68 L654.83,636.29 L657.82,636.90 L660.81,637.52 L663.81,638.15 L666.80,638.78 L669.79,639.41 L672.79,640.06 L675.78,640.71 L678.77,641.36 L681.77,642.03 L684.76,642.69 L687.76,643.37 L690.75,644.05 L693.74,644.73 L696.74,645.42 L699.73,646.12 L702.72,646.83 L705.72,647.54 L708.71,648.25 L711.70,648.98 L714.70,649.71 L717.69,650.44 L720.69,651.18 L723.68,651.93 L726.67,652.69 L729.67,653.45 L732.66,654.22 L735.65,654.99 L738.65,655.77 L741.64,656.56 L744.63,657.35 L747.63,658.15 L750.62,658.95 L753.62,659.77 L756.61,660.59 L759.60,661.41 L762.60,662.24 L765.59,663.08 L768.58,663.93 L771.58,664.78 L774.57,665.64 L777.57,666.51 L780.56,667.38 L783.55,668.26 L786.55,669.14 L789.54,670.03 L792.53,670.93 L795.53,671.84 L798.52,672.75 L801.51,673.67 L804.51,674.60 L807.50,675.53 L810.50,676.47 L813.49,677.42 L816.48,678.37 L819.48,679.34 L822.47,680.30 L825.46,681.28 L828.46,682.26 L831.45,683.25 L834.44,684.25 L837.44,685.25 L840.43,686.26 L843.43,687.28 L846.42,688.31 L849.41,689.34 L852.41,690.38 L855.40,691.42" fill="none" stroke="#04717f" stroke-width="3.6" stroke-linejoin="round"/>
<path d="M67.30,761.39 L70.32,761.51 L73.34,761.62 L76.35,761.73 L79.37,761.82 L82.39,761.91 L85.41,761.99 L88.42,762.06 L91.44,762.12 L94.46,762.18 L97.48,762.23 L100.49,762.27 L103.51,762.30 L106.53,762.32 L109.55,762.34 L112.56,762.35 L115.58,762.35 L118.60,762.35 L121.62,762.34 L124.63,762.32 L127.65,762.30 L130.67,762.27 L133.69,762.23 L136.70,762.18 L139.72,762.13 L142.74,762.07 L145.76,762.01 L148.77,761.94 L151.79,761.87 L154.81,761.79 L157.83,761.70 L160.84,761.61 L163.86,761.51 L166.88,761.40 L169.90,761.30 L172.91,761.18 L175.93,761.06 L178.95,760.94 L181.97,760.81 L184.99,760.67 L188.00,760.54 L191.02,760.39 L194.04,760.24 L197.06,760.09 L200.07,759.93 L203.09,759.77 L206.11,759.61 L209.13,759.44 L212.14,759.27 L215.16,759.09 L218.18,758.91 L221.20,758.73 L224.21,758.54 L227.23,758.35 L230.25,758.15 L233.27,757.95 L236.28,757.75 L239.30,757.55 L242.32,757.34 L245.34,757.14 L248.35,756.92 L251.37,756.71 L254.39,756.49 L257.41,756.27 L260.42,756.05 L263.44,755.83 L266.46,755.60 L269.48,755.37 L272.49,755.14 L275.51,754.91 L278.53,754.68 L281.55,754.45 L284.56,754.21 L287.58,753.97 L290.60,753.73" fill="none" stroke="#2a777c" stroke-width="1.6"/>
<path d="M289.60,753.81 L292.61,753.57 L295.61,753.33 L298.62,753.09 L301.63,752.85 L304.63,752.61 L307.64,752.36 L310.64,752.11 L313.65,751.86 L316.66,751.60 L319.66,751.34 L322.67,751.08 L325.68,750.82 L328.68,750.55 L331.69,750.27 L334.70,750.00 L337.70,749.72 L340.71,749.43 L343.71,749.14 L346.72,748.85 L349.73,748.55 L352.73,748.24 L355.74,747.93 L358.75,747.61 L361.75,747.29 L364.76,746.96 L367.77,746.63 L370.77,746.28 L373.78,745.94 L376.79,745.58 L379.79,745.22 L382.80,744.85 L385.80,744.47 L388.81,744.08 L391.82,743.69 L394.82,743.29 L397.83,742.88 L400.84,742.46 L403.84,742.03 L406.85,741.59 L409.86,741.14 L412.86,740.69 L415.87,740.22 L418.87,739.75 L421.88,739.26 L424.89,738.76 L427.89,738.26 L430.90,737.74 L433.91,737.21 L436.91,736.67 L439.92,736.12 L442.93,735.55 L445.93,734.98 L448.94,734.39 L451.94,733.79 L454.95,733.18 L457.96,732.56 L460.96,731.92 L463.97,731.27 L466.98,730.60 L469.98,729.93 L472.99,729.24 L476.00,728.53 L479.00,727.81 L482.01,727.08 L485.01,726.33 L488.02,725.57 L491.03,724.80 L494.03,724.01 L497.04,723.21 L500.05,722.40 L503.05,721.57 L506.06,720.73 L509.07,719.88 L512.07,719.01 L515.08,718.13 L518.09,717.24 L521.09,716.33 L524.10,715.41 L527.10,714.48 L530.11,713.54 L533.12,712.58 L536.12,711.62 L539.13,710.63 L542.14,709.64 L545.14,708.63 L548.15,707.62 L551.16,706.59 L554.16,705.54 L557.17,704.49 L560.17,703.42 L563.18,702.35 L566.19,701.26 L569.19,700.15 L572.20,699.04 L575.21,697.91 L578.21,696.78 L581.22,695.63 L584.23,694.47 L587.23,693.30 L590.24,692.12 L593.24,690.92 L596.25,689.72 L599.26,688.50 L602.26,687.28 L605.27,686.04 L608.28,684.79 L611.28,683.53 L614.29,682.26 L617.30,680.98 L620.30,679.69 L623.31,678.39 L626.31,677.08 L629.32,675.76 L632.33,674.43 L635.33,673.08 L638.34,671.73 L641.35,670.37 L644.35,668.99 L647.36,667.61 L650.37,666.22 L653.37,664.82 L656.38,663.40 L659.39,661.98 L662.39,660.55 L665.40,659.11 L668.40,657.66 L671.41,656.20 L674.42,654.73 L677.42,653.25 L680.43,651.77 L683.44,650.27 L686.44,648.76 L689.45,647.25 L692.46,645.73 L695.46,644.19 L698.47,642.65 L701.47,641.10 L704.48,639.54 L707.49,637.98 L710.49,636.40 L713.50,634.82 L716.51,633.22 L719.51,631.62 L722.52,630.01 L725.53,628.38 L728.53,626.75 L731.54,625.11 L734.54,623.46 L737.55,621.79 L740.56,620.12 L743.56,618.44 L746.57,616.75 L749.58,615.04 L752.58,613.33 L755.59,611.60 L758.60,609.86 L761.60,608.11 L764.61,606.35 L767.61,604.58 L770.62,602.79 L773.63,601.00 L776.63,599.19 L779.64,597.37 L782.65,595.54 L785.65,593.69 L788.66,591.83 L791.67,589.96 L794.67,588.08 L797.68,586.18 L800.69,584.27 L803.69,582.34 L806.70,580.40 L809.70,578.44 L812.71,576.46 L815.72,574.46 L818.72,572.44 L821.73,570.39 L824.74,568.33 L827.74,566.24 L830.75,564.13 L833.76,561.99 L836.76,559.82 L839.77,557.63 L842.77,555.40 L845.78,553.15 L848.79,550.87 L851.79,548.55 L854.80,546.20" fill="none" stroke="#04717f" stroke-width="3.6" stroke-linejoin="round"/>
<g style="filter:grayscale(1)">
<text transform="translate(25.40,199.60) scale(1.1,1)" text-anchor="start" font-size="19.5">P<tspan font-size="13" dx="-0.9">2</tspan></text>
<text transform="translate(34.80,219.80) scale(1.1,1)" text-anchor="middle" font-size="19.5">[kw]</text>
<text transform="translate(34.20,253.00) scale(1.1,1)" text-anchor="middle" font-size="19.5">0.16</text>
<text transform="translate(34.20,306.60) scale(1.1,1)" text-anchor="middle" font-size="19.5">0.12</text>
<text transform="translate(34.20,360.60) scale(1.1,1)" text-anchor="middle" font-size="19.5">0.08</text>
<text transform="translate(34.20,414.40) scale(1.1,1)" text-anchor="middle" font-size="19.5">0.04</text>
<text transform="translate(34.20,468.40) scale(1.1,1)" text-anchor="middle" font-size="19.5">0.00</text>
<text transform="translate(960.90,188.20) scale(1.1,1)" text-anchor="middle" font-size="19.5">Eta</text>
<text transform="translate(960.20,210.20) scale(1.1,1)" text-anchor="middle" font-size="19.5">[%]</text>
<text transform="translate(961.50,255.70) scale(1.1,1)" text-anchor="middle" font-size="19.5">40</text>
<text transform="translate(961.50,309.00) scale(1.1,1)" text-anchor="middle" font-size="19.5">30</text>
<text transform="translate(961.50,362.00) scale(1.1,1)" text-anchor="middle" font-size="19.5">20</text>
<text transform="translate(961.50,415.00) scale(1.1,1)" text-anchor="middle" font-size="19.5">10</text>
<text transform="translate(961.50,468.00) scale(1.1,1)" text-anchor="middle" font-size="19.5">0</text>
<text transform="translate(67.90,487.20) scale(1.1,1)" text-anchor="middle" font-size="19.5">0.0</text>
<text transform="translate(67.90,801.20) scale(1.1,1)" text-anchor="middle" font-size="19.5">0.0</text>
<text transform="translate(107.40,487.20) scale(1.1,1)" text-anchor="middle" font-size="19.5">0.2</text>
<text transform="translate(107.40,801.20) scale(1.1,1)" text-anchor="middle" font-size="19.5">0.2</text>
<text transform="translate(153.19,487.20) scale(1.1,1)" text-anchor="middle" font-size="19.5">0.4</text>
<text transform="translate(153.19,801.20) scale(1.1,1)" text-anchor="middle" font-size="19.5">0.4</text>
<text transform="translate(198.98,487.20) scale(1.1,1)" text-anchor="middle" font-size="19.5">0.6</text>
<text transform="translate(198.98,801.20) scale(1.1,1)" text-anchor="middle" font-size="19.5">0.6</text>
<text transform="translate(244.77,487.20) scale(1.1,1)" text-anchor="middle" font-size="19.5">0.8</text>
<text transform="translate(244.77,801.20) scale(1.1,1)" text-anchor="middle" font-size="19.5">0.8</text>
<text transform="translate(290.56,487.20) scale(1.1,1)" text-anchor="middle" font-size="19.5">1.0</text>
<text transform="translate(290.56,801.20) scale(1.1,1)" text-anchor="middle" font-size="19.5">1.0</text>
<text transform="translate(336.35,487.20) scale(1.1,1)" text-anchor="middle" font-size="19.5">1.2</text>
<text transform="translate(336.35,801.20) scale(1.1,1)" text-anchor="middle" font-size="19.5">1.2</text>
<text transform="translate(382.14,487.20) scale(1.1,1)" text-anchor="middle" font-size="19.5">1.4</text>
<text transform="translate(382.14,801.20) scale(1.1,1)" text-anchor="middle" font-size="19.5">1.4</text>
<text transform="translate(427.93,487.20) scale(1.1,1)" text-anchor="middle" font-size="19.5">1.6</text>
<text transform="translate(427.93,801.20) scale(1.1,1)" text-anchor="middle" font-size="19.5">1.6</text>
<text transform="translate(473.72,487.20) scale(1.1,1)" text-anchor="middle" font-size="19.5">1.8</text>
<text transform="translate(473.72,801.20) scale(1.1,1)" text-anchor="middle" font-size="19.5">1.8</text>
<text transform="translate(519.51,487.20) scale(1.1,1)" text-anchor="middle" font-size="19.5">2.0</text>
<text transform="translate(519.51,801.20) scale(1.1,1)" text-anchor="middle" font-size="19.5">2.0</text>
<text transform="translate(565.30,487.20) scale(1.1,1)" text-anchor="middle" font-size="19.5">2.2</text>
<text transform="translate(565.30,801.20) scale(1.1,1)" text-anchor="middle" font-size="19.5">2.2</text>
<text transform="translate(611.09,487.20) scale(1.1,1)" text-anchor="middle" font-size="19.5">2.4</text>
<text transform="translate(611.09,801.20) scale(1.1,1)" text-anchor="middle" font-size="19.5">2.4</text>
<text transform="translate(656.88,487.20) scale(1.1,1)" text-anchor="middle" font-size="19.5">2.6</text>
<text transform="translate(656.88,801.20) scale(1.1,1)" text-anchor="middle" font-size="19.5">2.6</text>
<text transform="translate(702.67,487.20) scale(1.1,1)" text-anchor="middle" font-size="19.5">2.8</text>
<text transform="translate(702.67,801.20) scale(1.1,1)" text-anchor="middle" font-size="19.5">2.8</text>
<text transform="translate(748.46,487.20) scale(1.1,1)" text-anchor="middle" font-size="19.5">3.0</text>
<text transform="translate(748.46,801.20) scale(1.1,1)" text-anchor="middle" font-size="19.5">3.0</text>
<text transform="translate(794.25,487.20) scale(1.1,1)" text-anchor="middle" font-size="19.5">3.2</text>
<text transform="translate(794.25,801.20) scale(1.1,1)" text-anchor="middle" font-size="19.5">3.2</text>
<text transform="translate(858.70,256.40) scale(1.1,1)" text-anchor="start" font-size="19.5">Eta</text>
<text transform="translate(859.30,325.20) scale(1.1,1)" text-anchor="start" font-size="19.5">P<tspan font-size="13" dx="-0.6">2</tspan></text>
<text transform="translate(868.00,488.90) scale(1.1,1)" text-anchor="start" font-size="19.5">Q (<tspan font-size="17.5" dx="0.5">М</tspan><tspan font-size="11" dy="-7.5" dx="0.4">3</tspan><tspan dy="7.5" dx="0">/</tspan><tspan font-size="17.5" dx="0.2">Ч</tspan><tspan dx="0.3">)</tspan></text>
<text transform="translate(868.50,803.70) scale(1.1,1)" text-anchor="start" font-size="19.5">Q (<tspan font-size="17.5" dx="0.5">М</tspan><tspan font-size="11" dy="-7.5" dx="0.4">3</tspan><tspan dy="7.5" dx="0">/</tspan><tspan font-size="17.5" dx="0.2">Ч</tspan><tspan dx="0.3">)</tspan></text>
<text transform="translate(43.00,534.00) scale(1.1,1)" text-anchor="middle" font-size="19.5">H</text>
<text transform="translate(42.60,556.50) scale(1.1,1)" text-anchor="middle" font-size="19.5">[m]</text>
<text transform="translate(43.00,588.40) scale(1.1,1)" text-anchor="middle" font-size="19.5">10</text>
<text transform="translate(43.00,627.00) scale(1.1,1)" text-anchor="middle" font-size="19.5">8</text>
<text transform="translate(43.00,665.60) scale(1.1,1)" text-anchor="middle" font-size="19.5">6</text>
<text transform="translate(43.00,704.00) scale(1.1,1)" text-anchor="middle" font-size="19.5">4</text>
<text transform="translate(43.00,742.40) scale(1.1,1)" text-anchor="middle" font-size="19.5">2</text>
<text transform="translate(43.00,780.80) scale(1.1,1)" text-anchor="middle" font-size="19.5">0</text>
<text transform="translate(116.50,592.80) scale(1.1,1)" text-anchor="start" font-size="19.5">QH2900rpm</text>
<text transform="translate(78.30,756.90) scale(1.1,1)" text-anchor="start" font-size="19.5">NPSH</text>
<text transform="translate(962.30,534.00) scale(1.1,1)" text-anchor="middle" font-size="19.5">NPSH</text>
<text transform="translate(962.20,556.70) scale(1.1,1)" text-anchor="middle" font-size="19.5">[m]</text>
<text transform="translate(959.50,586.60) scale(1.1,1)" text-anchor="middle" font-size="19.5">5</text>
<text transform="translate(959.50,625.20) scale(1.1,1)" text-anchor="middle" font-size="19.5">4</text>
<text transform="translate(959.50,663.60) scale(1.1,1)" text-anchor="middle" font-size="19.5">3</text>
<text transform="translate(959.50,702.00) scale(1.1,1)" text-anchor="middle" font-size="19.5">2</text>
<text transform="translate(959.50,740.40) scale(1.1,1)" text-anchor="middle" font-size="19.5">1</text>
<text transform="translate(959.50,779.50) scale(1.1,1)" text-anchor="middle" font-size="19.5">0</text>
</g>
</svg></body></html>
